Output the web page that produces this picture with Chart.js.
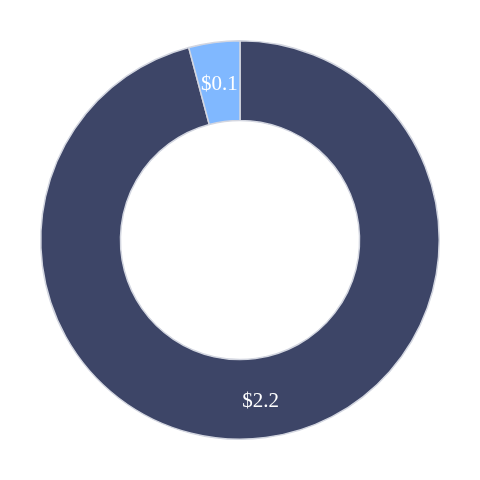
<!DOCTYPE html>
<html lang="en">
  <head>
    <meta charset="UTF-8" />
    <title>Donut</title>
    <style>
      body {
        margin: 0;
        padding: 0;
        background-color: #fff;
      }
      .chart-container {
        width: 480px;
        height: 480px;
        position: relative;
      }
    </style>
  </head>
  <body>
    <div class="chart-container">
      <canvas id="donutChart"></canvas>
    </div>

    <script src="https://cdn.jsdelivr.net/npm/chart.js"></script>
    <script>
      const categories = ["A", "B"];
      const values = [2.2, 0.095];
      const colors = ["#3d4567", "#80b8ff"];

      // draws "$x" at the middle of each arc
      const sliceLabels = {
        id: "sliceLabels",
        afterDatasetsDraw(chart) {
          const ctx = chart.ctx;
          const meta = chart.getDatasetMeta(0);
          ctx.save();
          ctx.fillStyle = "#ffffff";
          ctx.font = "21px 'Liberation Serif', 'Times New Roman', serif";
          ctx.textAlign = "center";
          ctx.textBaseline = "middle";
          meta.data.forEach((arc, i) => {
            const pos = arc.tooltipPosition();
            ctx.fillText("$" + values[i].toFixed(1), pos.x, pos.y + 3);
          });
          ctx.restore();
        },
      };

      const ctx = document.getElementById("donutChart").getContext("2d");
      new Chart(ctx, {
        type: "doughnut",
        data: {
          labels: categories,
          datasets: [
            {
              data: values,
              backgroundColor: colors,
              borderColor: "#d3d6e0",
              borderWidth: 1.5,
            },
          ],
        },
        options: {
          responsive: true,
          maintainAspectRatio: false,
          animation: false,
          cutout: "60%",
          layout: { padding: 40 },
          plugins: {
            legend: { display: false },
            tooltip: { enabled: false },
          },
        },
        plugins: [sliceLabels],
      });
    </script>
  </body>
</html>
